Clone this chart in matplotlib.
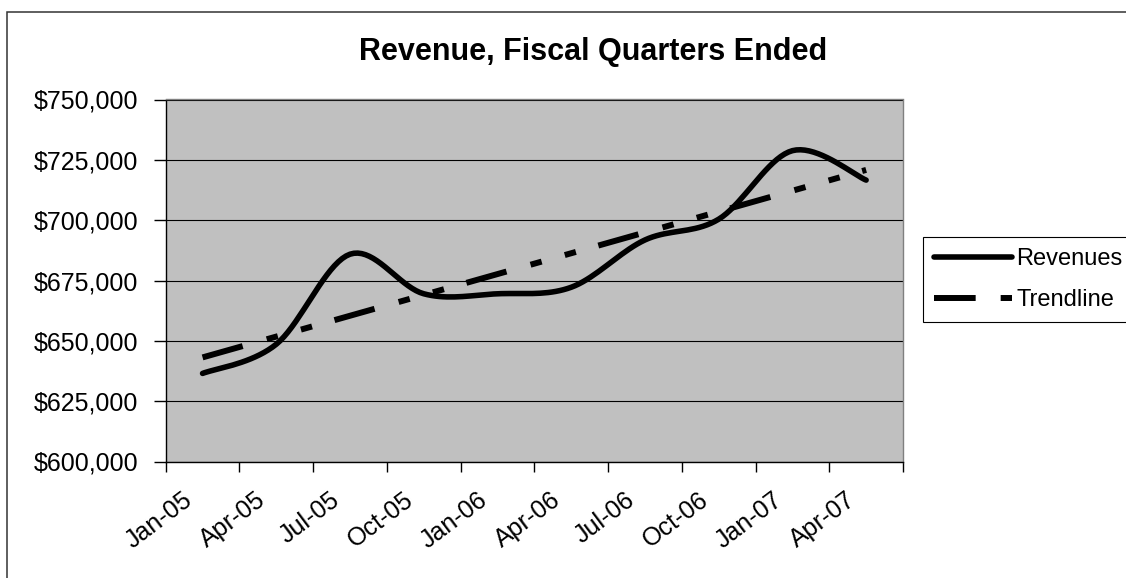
import numpy as np
import matplotlib
matplotlib.use("Agg")
import matplotlib.pyplot as plt
import matplotlib.transforms as mtransforms
from matplotlib.patches import Rectangle
from matplotlib.ticker import FuncFormatter, FixedLocator

plt.rcParams['font.family'] = ['Liberation Sans', 'DejaVu Sans']
plt.rcParams['lines.scale_dashes'] = False

# ==================================================
# DATA
# ==================================================

quarters = ['Jan-05', 'Apr-05', 'Jul-05', 'Oct-05', 'Jan-06',
            'Apr-06', 'Jul-06', 'Oct-06', 'Jan-07', 'Apr-07']
revenues = [636500, 648600, 685900, 669500, 669500,
            672200, 691800, 700400, 728800, 716600]


# Excel-style smoothed line (Bezier through the points)
def smooth(xs, ys, steps=20):
    xs = np.asarray(xs, float)
    ys = np.asarray(ys, float)
    px = np.concatenate([[xs[0]], xs, [xs[-1]]])
    py = np.concatenate([[ys[0]], ys, [ys[-1]]])
    out_x, out_y = [], []
    t = np.linspace(0, 1, steps)
    for i in range(1, len(xs)):
        p0 = np.array([px[i], py[i]])
        p3 = np.array([px[i + 1], py[i + 1]])
        c1 = p0 + (p3 - np.array([px[i - 1], py[i - 1]])) / 6
        c2 = p3 - (np.array([px[i + 2], py[i + 2]]) - p0) / 6
        pts = ((1 - t)[:, None] ** 3 * p0 + 3 * ((1 - t) ** 2 * t)[:, None] * c1
               + 3 * ((1 - t) * t ** 2)[:, None] * c2 + (t ** 3)[:, None] * p3)
        out_x.extend(pts[:, 0])
        out_y.extend(pts[:, 1])
    return out_x, out_y


x = np.arange(len(quarters))
sx, sy = smooth(x, revenues)

slope, intercept = np.polyfit(x, revenues, 1)
trend = slope * x + intercept

# ==================================================
# CHART
# ==================================================

fig = plt.figure(figsize=(11.26, 5.78), dpi=100)
W, H = 1126, 578
ax = fig.add_axes([165.7 / W, 1 - 461.5 / H, (903 - 165.7) / W, (461.5 - 99.5) / H])
ax.set_facecolor('#C0C0C0')

ax.plot(x, trend, color='black', lw=4.3,
        linestyle=(0, (30, 18, 8.3, 17.3, 8.3, 16.8)), label='Trendline', zorder=3)
ax.plot(sx, sy, color='black', lw=4, solid_capstyle='round',
        solid_joinstyle='round', label='Revenues', zorder=4)

ax.set_xlim(-0.5, len(quarters) - 0.5)
ax.set_ylim(600000, 750000)
ax.set_yticks(np.arange(600000, 750001, 25000))
ax.yaxis.set_major_formatter(FuncFormatter(lambda v, p: f"${v:,.0f}"))
ax.yaxis.grid(True, color='black', lw=0.8)
ax.set_axisbelow(True)

ax.xaxis.set_major_locator(FixedLocator(np.arange(-0.5, len(quarters), 1.0)))
ax.xaxis.set_minor_locator(FixedLocator(x))
ax.set_xticklabels([])
ax.set_xticklabels(quarters, minor=True)
ax.tick_params(axis='x', which='major', length=7, width=1, direction='out')
ax.tick_params(axis='x', which='minor', length=0, pad=19, labelsize=18)
ax.tick_params(axis='y', length=9, width=1, direction='out', pad=11, labelsize=18)

offset = mtransforms.ScaledTranslation(-6 / 100, 0, fig.dpi_scale_trans)
for lab in ax.xaxis.get_minorticklabels():
    lab.set_rotation(37)
    lab.set_ha('right')
    lab.set_va('top')
    lab.set_transform(lab.get_transform() + offset)

for side in ['left', 'bottom']:
    ax.spines[side].set_color('black')
    ax.spines[side].set_linewidth(1)
for side in ['top', 'right']:
    ax.spines[side].set_color('#808080')
    ax.spines[side].set_linewidth(1)

# chart border
fig.add_artist(Rectangle((7.5 / W, -0.1), 1.2, 1 - 12 / H + 0.1,
                         transform=fig.transFigure, fill=False,
                         edgecolor='#333333', lw=1.1))

fig.text(593 / W, 1 - 60 / H, "Revenue, Fiscal Quarters Ended",
         ha='center', va='baseline', fontsize=22, fontweight='bold')

handles, labels = ax.get_legend_handles_labels()
leg = fig.legend(handles[::-1], labels[::-1], loc='upper left',
                 bbox_to_anchor=(923.3 / W, 1 - 237.3 / H),
                 bbox_transform=fig.transFigure, borderaxespad=0,
                 fontsize=17, handlelength=3.3, handletextpad=0.2,
                 borderpad=0.45, labelspacing=0.82, fancybox=False,
                 framealpha=1, edgecolor='black')
leg.get_frame().set_linewidth(0.8)

plt.savefig("out.png", dpi=100)
